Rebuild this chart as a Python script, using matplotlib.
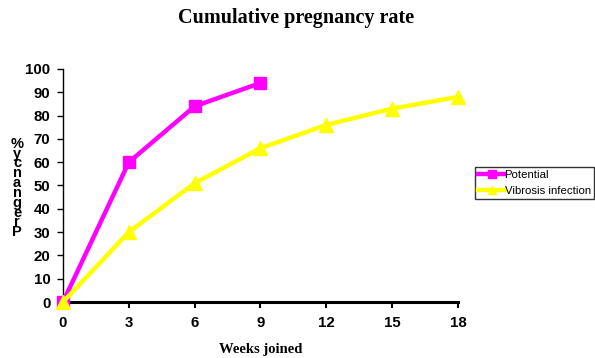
import matplotlib
matplotlib.use("Agg")
import matplotlib.pyplot as plt

weeks_potential = [0, 3, 6, 9]
potential = [0, 60, 84, 94]
weeks_vibrosis = [0, 3, 6, 9, 12, 15, 18]
vibrosis = [0, 30, 51, 66, 76, 83, 88]
x_ticks = [0, 3, 6, 9, 12, 15, 18]
y_ticks = list(range(0, 101, 10))

fig = plt.figure(figsize=(5.95, 3.58), dpi=100)
ax = fig.add_axes([63/595, 1-302/358, (458-63)/595, (302-69)/358])

ax.plot(weeks_potential, potential, color="#FF00FF", lw=3.2, marker="s",
        markersize=9, label="Potential", clip_on=False, zorder=3)
ax.plot(weeks_vibrosis, vibrosis, color="#FFFF00", lw=3.2, marker="^",
        markersize=10, label="Vibrosis infection", clip_on=False, zorder=3)

ax.set_xlim(0, 18)
ax.set_ylim(0, 100)
ax.set_xticks(x_ticks)
ax.set_yticks(y_ticks)
for s in ["top", "right"]:
    ax.spines[s].set_visible(False)
ax.spines["left"].set_linewidth(1.0)
ax.spines["bottom"].set_linewidth(2.2)
ax.tick_params(axis="y", direction="out", length=4, width=1.0, pad=5)
ax.tick_params(axis="x", direction="out", length=4, width=1.5, pad=6)
for lab in ax.get_xticklabels() + ax.get_yticklabels():
    lab.set_fontfamily("Liberation Sans")
    lab.set_fontweight("bold")
    lab.set_fontsize(10.8)

fig.text(296/595, 1-18/358, "Cumulative pregnancy rate", ha="center", va="center",
         fontfamily="Liberation Serif", fontweight="bold", fontsize=14.5)
fig.text(261/595, 1-349/358, "Weeks joined", ha="center", va="center",
         fontfamily="Liberation Serif", fontweight="bold", fontsize=10.5)
ylabel = "Pregnancy %"[::-1].replace(" ", "")
fig.text(17/595, 1-188/358, "\n".join(ylabel), ha="center", va="center",
         fontfamily="Liberation Sans", fontweight="bold", fontsize=10.5,
         linespacing=0.62)

leg = fig.legend(loc="upper left", bbox_to_anchor=(475/595, 1-167/358),
                 prop={"family": "Liberation Sans", "size": 8.2},
                 frameon=True, fancybox=False, edgecolor="black",
                 handlelength=2.3, handletextpad=0.0, borderpad=0.3,
                 labelspacing=0.45, markerscale=0.6, borderaxespad=0)
leg.get_frame().set_linewidth(1.0)

fig.savefig("out.png", dpi=100)
